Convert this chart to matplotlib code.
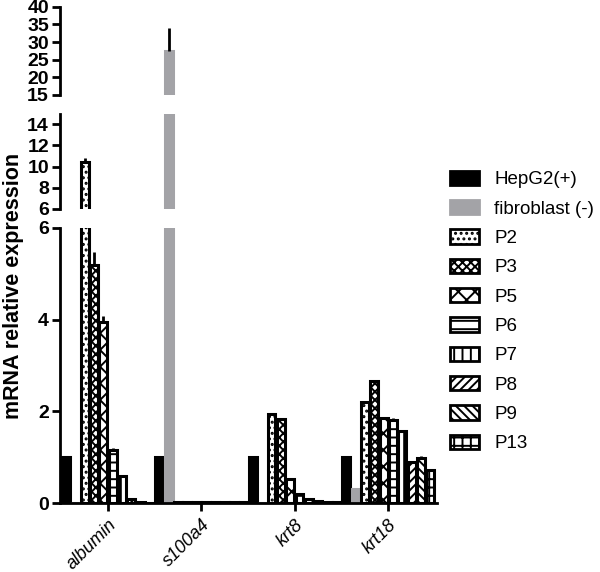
import numpy as np
import matplotlib
matplotlib.use('Agg')
import matplotlib.pyplot as plt
from matplotlib.patches import Patch

plt.rcParams['font.family'] = ['Liberation Sans', 'DejaVu Sans']
plt.rcParams['hatch.linewidth'] = 1.4

genes = ['albumin', 's100a4', 'krt8', 'krt18']
series = ['HepG2(+)', 'fibroblast (-)', 'P2', 'P3', 'P5', 'P6', 'P7', 'P8', 'P9', 'P13']

# mean values per series, one entry per gene
values = {
    'HepG2(+)':       [1.0, 1.0, 1.0, 1.0],
    'fibroblast (-)': [0.0, 27.5, 0.01, 0.3],
    'P2':             [10.4, 0.03, 1.95, 2.2],
    'P3':             [5.2, 0.03, 1.83, 2.67],
    'P5':             [3.95, 0.03, 0.52, 1.86],
    'P6':             [1.15, 0.02, 0.19, 1.8],
    'P7':             [0.6, 0.02, 0.08, 1.57],
    'P8':             [0.08, 0.02, 0.04, 0.9],
    'P9':             [0.03, 0.02, 0.02, 0.98],
    'P13':            [0.01, 0.02, 0.02, 0.72],
}
errors = {
    'HepG2(+)':       [0, 0, 0, 0],
    'fibroblast (-)': [0, 6.5, 0, 0],
    'P2':             [0.4, 0, 0, 0],
    'P3':             [0.28, 0, 0, 0],
    'P5':             [0.12, 0, 0, 0],
    'P6':             [0.05, 0, 0, 0.05],
    'P7':             [0.02, 0, 0, 0.03],
    'P8':             [0, 0, 0, 0.02],
    'P9':             [0, 0, 0, 0.05],
    'P13':            [0, 0, 0, 0],
}
hatches = [None, None, '...', 'xxxx', 'xx', '--', '||', '////', '\\\\\\\\', '++']
faces = ['black', '#a3a3a7'] + ['white'] * 8

fig = plt.figure(figsize=(6, 5.72), dpi=100)
ax_top = fig.add_axes([0.1, 0.834, 0.628, 0.154])
ax_mid = fig.add_axes([0.1, 0.635, 0.628, 0.166])
ax_bot = fig.add_axes([0.1, 0.1206, 0.628, 0.481])
axes = [ax_top, ax_mid, ax_bot]

x = np.arange(len(genes))
w = 0.1
for ax in axes:
    for i, s in enumerate(series):
        pos = x + (i - 4.5) * w
        ec = faces[i] if i < 2 else 'black'
        ax.bar(pos, values[s], width=w * 0.85, color=faces[i], edgecolor=ec,
               linewidth=2.2, hatch=hatches[i], zorder=2)
        for p, v, e in zip(pos, values[s], errors[s]):
            if e > 0:
                ax.errorbar(p, v, yerr=[[0], [e]], fmt='none', ecolor='black',
                            elinewidth=2, capsize=0, zorder=3)
    ax.set_xlim(-0.515, 3.52)
    for sp in ['top', 'right', 'bottom']:
        ax.spines[sp].set_visible(False)
    ax.spines['left'].set_linewidth(2)
    ax.tick_params(axis='y', width=2, length=6, labelsize=14, pad=2)

ax_top.set_ylim(15, 40)
ax_top.set_yticks([15, 20, 25, 30, 35, 40])
ax_mid.set_ylim(6, 15)
ax_mid.set_yticks([6, 8, 10, 12, 14])
ax_bot.set_ylim(0, 6)
ax_bot.set_yticks([0, 2, 4, 6])
for ax in axes:
    for lab in ax.get_yticklabels():
        lab.set_fontweight('bold')
for ax in [ax_top, ax_mid]:
    ax.set_xticks([])

ax_bot.spines['bottom'].set_visible(True)
ax_bot.spines['bottom'].set_linewidth(2)
ax_bot.set_xticks(x)
ax_bot.set_xticklabels(genes, rotation=45, ha='right', rotation_mode='anchor',
                       fontstyle='italic', fontsize=13)
ax_bot.tick_params(axis='x', width=2, length=6)

fig.text(0.022, 0.5, 'mRNA relative expression', rotation=90, va='center',
         ha='center', fontsize=15.5, fontweight='bold')

handles = [Patch(facecolor=faces[i], edgecolor=(faces[i] if i < 2 else 'black'),
                 linewidth=2, hatch=hatches[i], label=s)
           for i, s in enumerate(series)]
fig.legend(handles=handles, loc='upper left', bbox_to_anchor=(0.722, 0.731),
           frameon=False, fontsize=13.5, handlelength=1.55, handleheight=0.8,
           labelspacing=0.62, handletextpad=0.8)

fig.savefig('out.png', dpi=100)
